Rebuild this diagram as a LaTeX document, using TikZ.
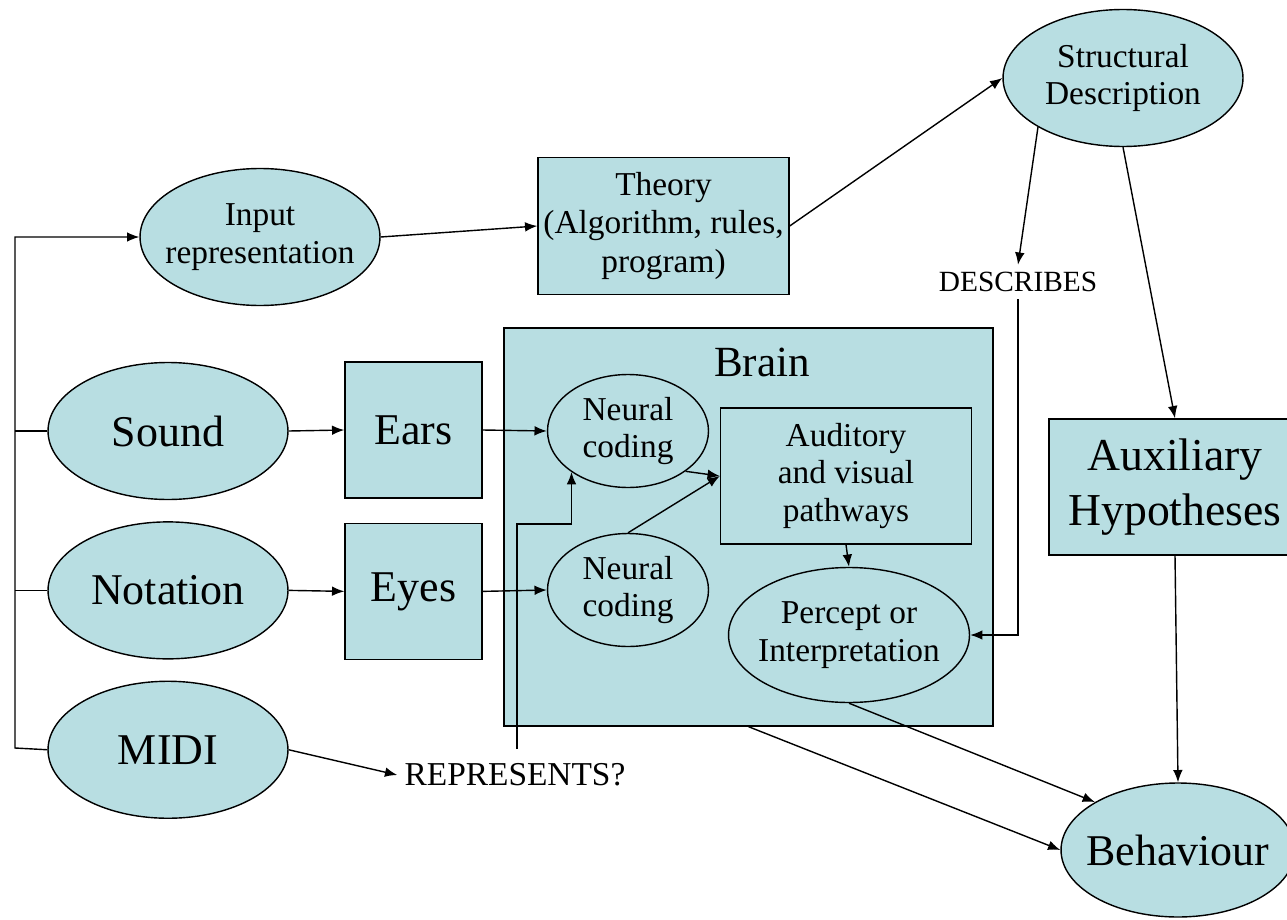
\documentclass[tikz,border=0pt]{standalone}
\usepackage{fontspec}
\setmainfont{Liberation Serif}
\usepackage{xcolor}
\usepackage{tikz}
\usetikzlibrary{positioning, arrows.meta, shapes.geometric}
\definecolor{paleblue}{RGB}{184,222,226}

\begin{document}
\begin{tikzpicture}[
    x=0.02cm, y=-0.02cm,
    node distance=0.42cm and 1cm,
    blob/.style={ellipse, draw, fill=paleblue, line width=0.8pt, inner sep=-8pt, minimum width=4.8cm, minimum height=2.74cm, align=center, font=\fontsize{25}{28}\selectfont},
    smallblob/.style={blob, font=\fontsize{19}{21.5}\selectfont},
    block/.style={rectangle, draw, fill=paleblue, line width=0.8pt, inner sep=0pt, minimum width=2.74cm, minimum height=2.72cm, align=center, font=\fontsize{25}{28}\selectfont},
    tag/.style={font=\fontsize{19}{21.5}\selectfont, inner sep=4pt},
    arrow/.style={-{Latex[length=7pt,width=5.5pt]}, line width=0.8pt},
    link/.style={line width=0.8pt}
]

\useasboundingbox (0,0) rectangle (1287,919);
\clip (0,0) rectangle (1287,919);

% Inputs on the left
\node[smallblob] (inrep) at (260,237) {Input\\representation};
\node[blob] (sound) at (168,431) {Sound};
\node[blob, below=of sound] (notation) {Notation};
\node[blob, below=of notation] (midi) {MIDI};

% Senses
\node[block] (ears) at (413.5,430) {Ears};
\node[block, below=0.48cm of ears] (eyes) {Eyes};

% Brain and what is inside it
\node[block, minimum width=9.78cm, minimum height=7.96cm] (brain) at (748.5,527) {};
\node[font=\fontsize{24.5}{28}\selectfont] (brainlbl) at (762,362) {Brain};
\node[smallblob, minimum width=3.22cm, minimum height=2.26cm] (neur1) at (628,431) {Neural\\coding};
\node[smallblob, minimum width=3.22cm, minimum height=2.26cm] (neur2) at (628,590) {Neural\\coding};
\node[block, font=\fontsize{19}{21.5}\selectfont, minimum width=5.02cm, minimum height=2.72cm] (audvis) at (846,476) {Auditory\\and visual\\pathways};
\node[smallblob, minimum width=4.82cm, minimum height=2.7cm] (percept) at (849,635) {Percept or\\Interpretation};

% Theory side
\node[block, font=\fontsize{19}{22}\selectfont, minimum width=5.02cm, minimum height=2.74cm] (theory) at (663.5,226) {Theory\\(Algorithm, rules,\\program)};
\node[smallblob] (struct) at (1123,78) {Structural\\Description};
\node[tag, font=\fontsize{16.7}{19}\selectfont] (describes) at (1018,282) {DESCRIBES};
\node[block, font=\fontsize{26}{31}\selectfont, minimum width=5.04cm] (aux) at (1175,487) {Auxiliary\\Hypotheses};
\node[blob, minimum width=4.68cm, minimum height=2.68cm] (behav) at (1178,850) {Behaviour};
\node[tag] (represents) at (515,775) {REPRESENTS?};

\coordinate (busbot) at (15,748);
\coordinate (repfoot) at (517,749);
\coordinate (repknee) at (517,524);

% Left bus
\draw[arrow] (midi.west) -- (busbot) |- (inrep.west);
\draw[link] (sound.west) -- (sound.west -| busbot);
\draw[link] (notation.west) -- (notation.west -| busbot);

% Top route
\draw[arrow] (inrep.east) -- (theory.west);
\draw[arrow] (theory.east) -- (struct.west);
\draw[arrow] (struct.210) -- (describes.north);
\draw[arrow] (describes.south) |- (percept.east);
\draw[arrow] (struct.south) -- (aux.north);
\draw[arrow] (aux.south) -- (behav.north);

% Senses into the brain
\draw[arrow] (sound.east) -- (ears.west);
\draw[arrow] (notation.east) -- (eyes.west);
\draw[arrow] (ears.east) -- (neur1.west);
\draw[arrow] (eyes.east) -- (neur2.west);
\draw[arrow] (neur1.-35) -- (audvis.west);
\draw[arrow] (neur2.north) -- (audvis.west);
\draw[arrow] (audvis.south) -- (percept.north);
\draw[arrow] (repfoot) -- (repknee) -| (neur1.216);

% Outputs
\draw[arrow] (percept.south) -- (behav.150);
\draw[arrow] (brain.south) -- (behav.west);
\draw[arrow] (midi.east) -- (represents.west);

\end{tikzpicture}
\end{document}
